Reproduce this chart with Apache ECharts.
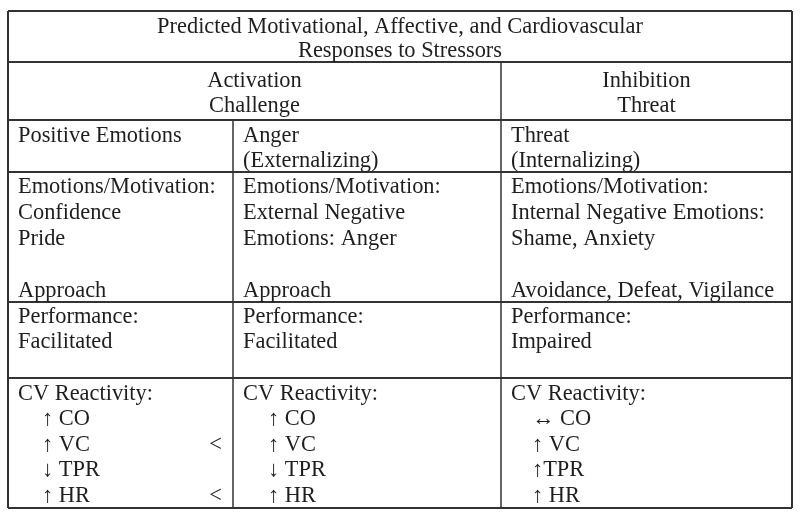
<!DOCTYPE html>
<html>
<head>
<meta charset="utf-8">
<script src="https://cdn.jsdelivr.net/npm/echarts@6/dist/echarts.min.js"></script>
<style>html,body{margin:0;padding:0;background:#fff}#main{width:800px;height:518px}</style>
</head>
<body>
<div id="main"></div>
<script>
// ---- table content ----
const titleLines = ['Predicted Motivational, Affective, and Cardiovascular', 'Responses to Stressors'];
const groupHeaders = [['Activation', 'Challenge'], ['Inhibition', 'Threat']];
const columnHeaders = [['Positive Emotions'], ['Anger', '(Externalizing)'], ['Threat', '(Internalizing)']];
const emotionCells = [
  ['Emotions/Motivation:', 'Confidence', 'Pride', '', 'Approach'],
  ['Emotions/Motivation:', 'External Negative', 'Emotions: Anger', '', 'Approach'],
  ['Emotions/Motivation:', 'Internal Negative Emotions:', 'Shame, Anxiety', '', 'Avoidance, Defeat, Vigilance']
];
const performanceCells = [
  ['Performance:', 'Facilitated'],
  ['Performance:', 'Facilitated'],
  ['Performance:', 'Impaired']
];
const cvLabel = 'CV Reactivity:';
const cvItems = [
  ['\u2191 CO', '\u2191 VC', '\u2193 TPR', '\u2191 HR'],
  ['\u2191 CO', '\u2191 VC', '\u2193 TPR', '\u2191 HR'],
  ['\u2194 CO', '\u2191 VC', '\u2191TPR', '\u2191 HR']
];
const cvMarks = [
  ['', '<', '', '<'],
  ['', '', '', ''],
  ['', '', '', '']
];

// ---- layout ----
const L = 8, R = 792;
const colX = [8, 233, 501, 792];
const rowY = [11, 62, 120, 172, 302, 378, 508];
const lineH = 25.8;
const dy = 1.5;
const font = '22.4px "Liberation Serif", "Times New Roman", serif';
const color = '#1e1e1e';
const lineColor = '#333';

const els = [];
function txt(s, x, y, align) {
  els.push({type: 'text', x: x, y: y + dy, style: {text: s, font: font, fill: color, align: align || 'left', verticalAlign: 'middle'}, silent: true});
}
function line(x1, y1, x2, y2, w) {
  els.push({type: 'line', shape: {x1: x1, y1: y1, x2: x2, y2: y2}, style: {stroke: lineColor, lineWidth: w}, silent: true});
}

// borders
line(L, rowY[0], R, rowY[0], 2);
line(L, rowY[6], R, rowY[6], 2);
line(L, rowY[0], L, rowY[6], 2);
line(R, rowY[0], R, rowY[6], 2);
for (let i = 1; i < 6; i++) line(L, rowY[i], R, rowY[i], 2);
line(colX[2], rowY[1], colX[2], rowY[6], 1.5);
line(colX[1], rowY[2], colX[1], rowY[6], 1.5);

// title
titleLines.forEach((s, i) => txt(s, (L + R) / 2, 26 + i * 24, 'center'));
// group headers
const groupCenters = [(colX[0] + colX[2]) / 2, (colX[2] + colX[3]) / 2];
groupHeaders.forEach((g, gi) => g.forEach((s, i) => txt(s, groupCenters[gi], 80 + i * 24.5, 'center')));

const padX = [18, 243, 511];
const indentX = [42, 268, 532];
// column headers
columnHeaders.forEach((c, ci) => c.forEach((s, i) => txt(s, padX[ci], 135 + i * 25)));
// emotions
emotionCells.forEach((c, ci) => c.forEach((s, i) => { if (s) txt(s, padX[ci], 186 + i * lineH); }));
// performance
performanceCells.forEach((c, ci) => c.forEach((s, i) => txt(s, padX[ci], 316 + i * 25)));
// CV reactivity
cvItems.forEach((items, ci) => {
  txt(cvLabel, padX[ci], 393);
  items.forEach((s, i) => txt(s, indentX[ci], 418 + i * 25.4));
  cvMarks[ci].forEach((m, i) => { if (m) txt(m, colX[ci + 1] - 11, 418 + i * 25.4, 'right'); });
});

const chart = echarts.init(document.getElementById('main'), null, {renderer: 'canvas'});
chart.setOption({backgroundColor: '#fff', animation: false, graphic: {elements: els}});
</script>
</body>
</html>
